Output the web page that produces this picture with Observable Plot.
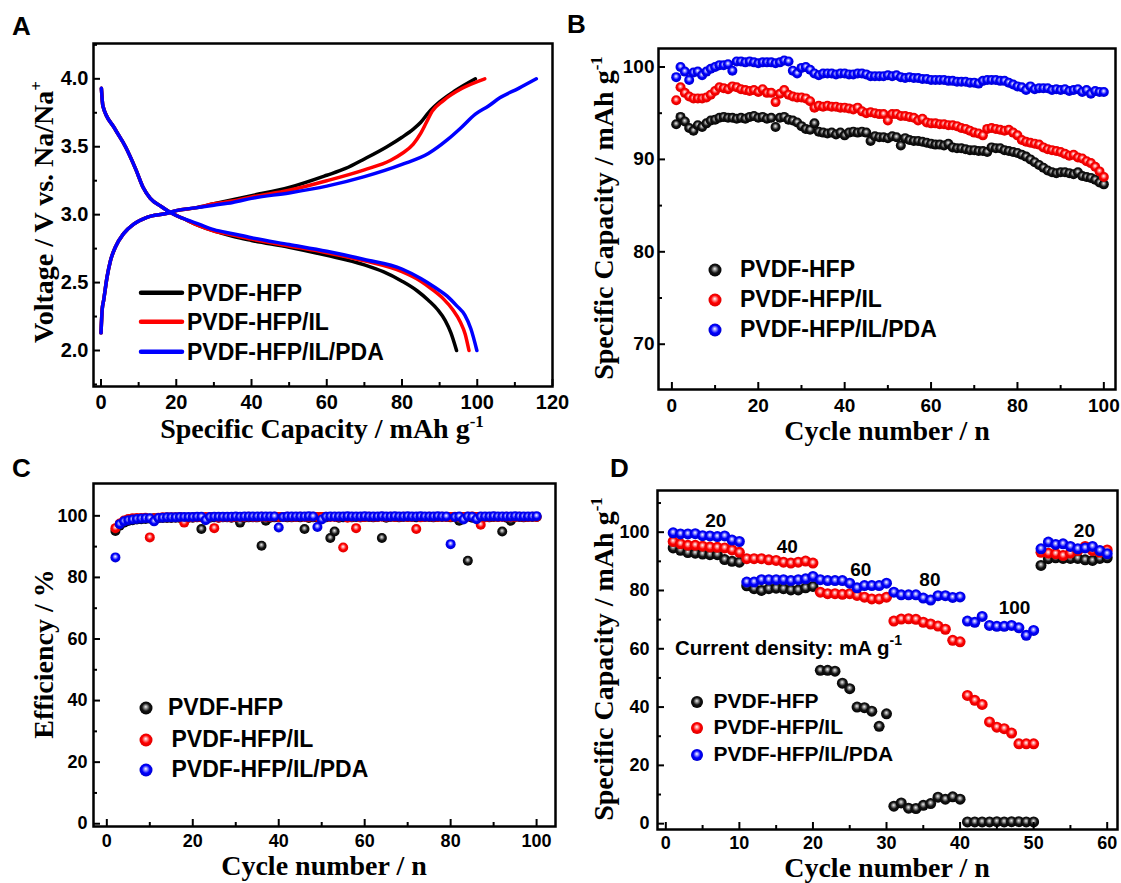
<!DOCTYPE html>
<html><head><meta charset="utf-8">
<script src="https://cdn.jsdelivr.net/npm/d3@7"></script>
<script src="https://cdn.jsdelivr.net/npm/@observablehq/plot@0.6"></script>
<style>
body{margin:0;background:#fff;}
#wrap{position:relative;width:1121px;height:883px;overflow:hidden;background:#fff;}
#overlay{position:absolute;left:0;top:0;pointer-events:none;}
</style></head><body>
<svg width="0" height="0" style="position:absolute">
<defs>
<radialGradient id="ballBlack" cx="50%" cy="48%" r="55%" fx="48%" fy="40%">
<stop offset="0" stop-color="#f0f0f0"/><stop offset="0.22" stop-color="#9a9a9a"/><stop offset="0.55" stop-color="#151515"/><stop offset="1" stop-color="#000"/>
</radialGradient>
<radialGradient id="ballRed" cx="50%" cy="48%" r="55%" fx="48%" fy="40%">
<stop offset="0" stop-color="#ffffff"/><stop offset="0.22" stop-color="#ff9a9a"/><stop offset="0.55" stop-color="#ff0000"/><stop offset="1" stop-color="#d80000"/>
</radialGradient>
<radialGradient id="ballBlue" cx="50%" cy="48%" r="55%" fx="48%" fy="40%">
<stop offset="0" stop-color="#ffffff"/><stop offset="0.22" stop-color="#9a9aff"/><stop offset="0.55" stop-color="#0000ff"/><stop offset="1" stop-color="#0000c8"/>
</radialGradient>
</defs></svg>
<div id="wrap"></div>
<script>
// ---------------- DATA ----------------
const seriesNames = ["PVDF-HFP", "PVDF-HFP/IL", "PVDF-HFP/IL/PDA"];

// Panel A: [capacity (mAh/g), voltage (V)]
const chargeHFP = [[0,2.13],[0.3,2.3],[0.7,2.37],[1.6,2.54],[2.5,2.66],[3.8,2.76],[6,2.86],[8.7,2.93],[12.2,2.98],[17.6,3.01],[20,3.03],[25,3.05],[30,3.08],[35,3.11],[40,3.14],[50,3.2],[60,3.29],[65,3.34],[70,3.41],[76,3.5],[80,3.57],[83,3.63],[85,3.68],[87,3.75],[90,3.83],[94,3.91],[99.5,4.0]];
const chargeIL = [[0,2.13],[0.3,2.3],[0.7,2.37],[1.6,2.54],[2.5,2.66],[3.8,2.76],[6,2.86],[8.7,2.93],[12.2,2.98],[17.6,3.01],[20,3.03],[25,3.05],[30,3.08],[35,3.1],[40,3.13],[50,3.18],[60,3.25],[70,3.33],[77,3.4],[80,3.45],[83,3.52],[85,3.6],[86.5,3.68],[88,3.76],[91,3.84],[96,3.93],[102,4.0]];
const chargePDA = [[0,2.13],[0.3,2.3],[0.7,2.37],[1.6,2.54],[2.5,2.66],[3.8,2.76],[6,2.86],[8.7,2.93],[12.2,2.98],[17.6,3.01],[20,3.03],[25,3.05],[30,3.07],[35,3.09],[40,3.12],[50,3.16],[60,3.21],[70,3.28],[80,3.37],[87,3.45],[92,3.55],[95.7,3.64],[99.5,3.74],[103,3.8],[106,3.86],[111,3.93],[115.7,4.0]];
const dischargeHFP = [[0.1,3.93],[0.5,3.8],[3.5,3.64],[6.5,3.5],[9.3,3.33],[11.2,3.2],[13.1,3.12],[16,3.06],[18.8,3.01],[22,2.97],[26,2.92],[30,2.88],[35,2.84],[40,2.81],[50,2.76],[60,2.7],[70,2.63],[75,2.58],[80,2.51],[84,2.44],[87,2.37],[89.5,2.3],[91.5,2.22],[93,2.13],[94.5,2.0]];
const dischargeIL = [[0.1,3.93],[0.5,3.8],[3.5,3.64],[6.5,3.5],[9.3,3.33],[11.2,3.2],[13.1,3.12],[16,3.06],[18.8,3.01],[22,2.97],[26,2.92],[30,2.88],[35,2.85],[40,2.82],[50,2.77],[60,2.72],[70,2.66],[80,2.58],[85,2.51],[88,2.45],[91,2.38],[93.5,2.3],[95.5,2.21],[96.8,2.12],[97.8,2.0]];
const dischargePDA = [[0.1,3.93],[0.5,3.8],[3.5,3.64],[6.5,3.5],[9.3,3.33],[11.2,3.2],[13.1,3.12],[16,3.06],[18.8,3.01],[22,2.97],[26,2.93],[30,2.89],[35,2.86],[40,2.83],[50,2.78],[60,2.73],[70,2.67],[80,2.6],[85,2.53],[89,2.46],[92,2.4],[94.5,2.33],[96.7,2.26],[98.3,2.16],[99.9,2.0]];

// Panel B: specific capacity vs cycle 1..100
const capHFP = [93.8,94.6,94.1,93.4,93.1,93.7,93.5,93.9,94.2,94.3,94.5,94.6,94.5,94.5,94.4,94.5,94.4,94.6,94.7,94.5,94.6,94.4,94.5,93.5,94.5,94.6,94.3,94.2,94.0,93.6,93.3,93.2,93.9,93.0,92.9,92.8,92.9,92.7,92.9,92.6,92.9,93.0,92.9,93.0,92.9,92.0,92.5,92.4,92.4,92.3,92.5,92.4,91.5,92.3,92.1,92.0,92.0,91.9,91.8,91.7,91.6,91.6,91.5,91.7,91.3,91.2,91.2,91.1,91.0,91.0,90.9,90.9,90.8,91.3,91.2,91.2,91.0,90.9,90.8,90.7,90.5,90.3,90.0,89.7,89.4,89.1,88.8,88.6,88.5,88.6,88.6,88.5,88.4,88.6,88.2,88.1,88.0,87.8,87.5,87.3];
const capIL = [96.4,97.8,97.2,96.8,96.6,96.6,96.6,96.7,97.0,97.4,97.8,97.7,97.6,97.9,97.8,97.6,97.5,97.4,97.5,97.3,97.6,97.2,97.2,96.2,97.1,97.5,97.0,96.8,96.7,96.7,96.6,96.3,95.6,95.8,95.7,95.8,95.7,95.7,95.6,95.6,95.5,95.4,95.6,95.2,95.0,95.1,95.0,94.9,94.9,94.2,94.9,94.9,94.7,94.7,94.6,94.5,94.2,94.4,94.0,93.9,93.9,93.8,93.8,93.7,93.7,93.6,93.4,93.3,93.1,92.9,92.8,92.6,93.3,93.4,93.3,93.2,93.1,93.2,92.9,92.6,92.1,91.9,91.8,91.7,91.6,91.3,91.1,91.0,90.9,90.8,90.6,90.4,90.5,90.2,90.1,89.8,89.6,89.2,88.7,88.1];
const capPDA = [98.9,100.0,99.5,98.6,99.4,99.5,99.1,99.5,99.8,100.0,100.2,100.2,100.3,99.6,100.6,100.6,100.5,100.6,100.5,100.4,100.5,100.5,100.5,100.4,100.5,100.7,100.6,99.6,99.3,99.9,100.0,99.7,99.3,99.1,99.3,99.3,99.3,99.2,99.3,99.3,99.2,99.2,99.3,99.3,99.2,99.0,99.0,99.0,99.0,99.1,99.0,99.1,98.9,98.8,98.9,98.8,98.8,98.7,98.7,98.6,98.6,98.6,98.6,98.5,98.5,98.4,98.4,98.4,98.3,98.3,98.2,98.5,98.6,98.6,98.6,98.5,98.5,98.3,98.1,97.9,97.8,97.5,97.9,97.6,97.7,97.7,97.7,97.5,97.6,97.5,97.6,97.4,97.5,97.6,97.3,97.5,97.1,97.4,97.3,97.3];

// Panel C: coulombic efficiency (%) vs cycle 2..100
const effHFP = [95.1,96.8,97.8,98.3,98.6,98.8,98.9,99.0,99.1,99.2,99.2,99.3,99.3,99.3,99.4,99.3,99.4,99.4,99.4,99.5,95.7,99.3,99.4,99.5,99.4,99.5,99.5,99.4,99.5,97.8,99.4,99.5,99.5,99.5,90.3,98.4,99.4,99.5,99.5,99.6,99.5,99.5,99.6,99.5,95.7,99.3,99.5,99.5,99.6,99.5,92.8,94.9,99.4,99.5,99.6,99.5,99.6,99.5,99.6,99.6,99.5,99.6,92.8,99.4,99.6,99.6,99.5,99.6,99.6,99.6,99.5,99.6,99.6,99.6,99.5,99.6,99.6,99.6,99.5,99.6,98.4,99.5,85.4,99.4,99.6,99.6,99.6,99.5,99.6,99.6,94.9,99.4,98.4,99.6,99.6,99.5,99.6,99.6,99.6];
const effIL = [96.0,97.5,98.5,99.0,99.2,99.3,99.3,99.4,93.0,99.2,99.4,99.5,99.5,99.5,99.5,99.6,97.8,99.4,99.5,99.6,99.5,99.6,99.6,96.0,99.4,99.6,99.6,99.5,99.6,99.6,99.6,99.7,99.6,99.6,99.7,99.6,99.6,99.7,99.6,99.6,99.7,99.6,99.6,99.7,99.6,99.6,99.7,99.6,99.6,99.7,99.6,99.6,99.6,89.7,99.4,99.6,96.0,99.5,99.6,99.7,99.6,99.6,99.7,99.6,99.7,99.6,99.6,99.7,99.6,99.6,95.7,99.5,99.6,99.7,99.6,99.6,99.7,99.6,99.6,99.7,99.6,99.6,99.7,99.8,99.6,97.1,99.5,99.6,99.7,99.6,99.6,99.7,99.6,99.6,99.7,99.6,99.6,99.7,99.6];
const effPDA = [86.5,97.3,98.2,98.6,98.8,99.0,99.1,99.2,99.2,98.2,99.3,99.4,99.5,99.5,99.5,99.6,99.6,99.6,99.6,99.7,99.7,98.6,99.6,99.7,99.7,99.7,99.7,99.7,99.8,99.7,99.8,99.8,99.8,99.8,99.8,99.8,99.8,99.8,96.2,99.6,99.8,99.8,99.8,99.8,99.8,99.9,99.8,96.4,98.8,99.7,99.8,99.8,99.8,99.8,99.9,99.8,99.8,99.8,99.9,99.8,99.8,99.8,99.9,99.8,99.8,99.9,99.8,99.8,99.9,99.8,99.8,99.9,99.8,99.8,99.8,99.9,99.8,99.8,90.8,99.6,99.8,98.8,99.8,99.7,98.9,99.8,99.8,99.8,99.9,99.8,99.8,99.8,99.8,99.9,99.8,99.8,99.8,99.8,99.9];

// Panel D: rate capability, cycles 1..60
const rateHFP = [94.6,93.8,93.0,92.8,92.5,92.3,92.3,90.6,90.0,89.7, 81.6,80.6,80.0,80.6,80.8,80.6,80.2,80.2,80.9,81.4, 52.6,52.6,52.3,48.2,46.3,40.0,39.8,38.6,33.4,37.7, 6.0,7.1,5.3,5.2,6.3,6.9,9.1,8.4,9.2,8.4, 0.6,0.6,0.6,0.6,0.7,0.6,0.7,0.7,0.6,0.6, 88.6,90.9,91.2,91.0,91.0,91.0,90.5,90.3,91.0,91.2];
const rateIL = [96.8,96.0,95.5,95.5,95.2,94.9,94.8,94.6,93.9,93.1, 90.9,90.9,90.9,90.5,90.3,89.7,89.4,89.7,90.1,89.4, 79.4,78.9,78.9,78.7,78.9,78.3,77.7,77.1,77.1,77.7, 69.5,70.2,70.3,70.1,69.1,68.5,67.8,66.7,62.9,62.4, 44.0,42.3,40.9,34.9,33.1,32.6,31.1,27.4,27.4,27.4, 93.1,92.8,92.6,92.0,92.8,93.7,95.1,93.7,93.1,93.9];
const ratePDA = [99.8,99.4,99.4,99.5,98.8,98.7,98.5,98.7,97.3,96.8, 82.9,82.9,83.7,83.7,83.7,83.7,83.4,83.7,84.0,84.8, 83.7,83.4,83.4,83.4,82.5,80.9,81.7,81.7,81.7,82.5, 79.4,78.5,78.5,78.5,77.4,76.7,78.2,78.2,77.6,77.8, 69.5,69.1,71.1,68.0,67.7,67.7,68.0,67.2,64.6,66.3, 94.3,96.6,95.8,96.0,95.1,94.3,94.6,95.1,93.7,92.6];
// current density labels (mA/g) placed at [cycle, capacity]
const rateLabels = ["20","40","60","80","100","20"];
const rateLabelCycle = [6.8,16.5,26.5,35.9,47.4,56.9];
const rateLabelCap = [101.7,92.7,85.1,81.7,72.1,98.2];

// tick values
const aXTicks = [0,20,40,60,80,100,120], aXMinor = [10,30,50,70,90,110];
const aYTicks = [2.0,2.5,3.0,3.5,4.0], aYMinor = [1.75,2.25,2.75,3.25,3.75,4.25];
const bXTicks = [0,20,40,60,80,100], bXMinor = [10,30,50,70,90];
const bYTicks = [70,80,90,100], bYMinor = [75,85,95];
const cXTicks = [0,20,40,60,80,100], cXMinor = [10,30,50,70,90];
const cYTicks = [0,20,40,60,80,100], cYMinor = [10,30,50,70,90];
const dXTicks = [0,10,20,30,40,50,60], dXMinor = [5,15,25,35,45,55];
const dYTicks = [0,20,40,60,80,100], dYMinor = [10,30,50,70,90,110];

// texts
const panelLetters = ["A","B","C","D"];
const xTitleA = ["Specific Capacity / mAh g", "-1"];
const yTitleA = ["Voltage / V vs. Na/Na", "+"];
const xTitleB = ["Cycle number / n", ""];
const yTitleB = ["Specific Capacity / mAh g", "-1"];
const yTitleC = ["Efficiency / %", ""];
const densityNote = ["Current density: mA g", "-1"];

// ---------------- RENDER ----------------
const colors = ["#000000", "#ff0000", "#0000ff"];
const balls = ["url(#ballBlack)", "url(#ballRed)", "url(#ballBlue)"];
const wrap = document.getElementById("wrap");
const SANS = "'Liberation Sans', Arial, Helvetica, sans-serif";
const SERIF = "'Liberation Serif', 'Times New Roman', serif";

function panel(o) {
  const innerW = o.width - o.ml - o.mr, innerH = o.height - o.mt - o.mb;
  const svg = Plot.plot({
    width: o.width, height: o.height,
    marginLeft: o.ml, marginRight: o.mr, marginTop: o.mt, marginBottom: o.mb,
    x: {domain: o.xDomain, label: null},
    y: {domain: o.yDomain, label: null},
    style: {background: "transparent", overflow: "visible", fontFamily: SANS},
    marks: [
      ...o.marks,
      Plot.ruleX(o.xMajor, {x: d => d, insetTop: innerH - 7, strokeWidth: 2}),
      Plot.ruleX(o.xMinor, {x: d => d, insetTop: innerH - 4, strokeWidth: 2}),
      Plot.ruleY(o.yMajor, {y: d => d, insetRight: innerW - 7, strokeWidth: 2}),
      Plot.ruleY(o.yMinor, {y: d => d, insetRight: innerW - 4, strokeWidth: 2}),
      Plot.axisX({ticks: o.xMajor, tickSize: 0, tickPadding: o.xPad, tickFormat: o.xFmt || (d => d), fontSize: o.fs, fontWeight: "bold", label: null}),
      Plot.axisY({ticks: o.yMajor, tickSize: 0, tickPadding: o.yPad, tickFormat: o.yFmt || (d => d), fontSize: o.fs, fontWeight: "bold", label: null}),
      Plot.frame({stroke: "black", strokeWidth: 2.5})
    ]
  });
  svg.style.position = "absolute";
  svg.style.left = o.left + "px";
  svg.style.top = o.top + "px";
  wrap.appendChild(svg);
}

const toRows = (arr) => arr.map(([x, y]) => ({x, y}));
const seriesRows = (vals, start) => vals.map((v, i) => ({cycle: i + start, v}));

// Panel A
const curvesA = [[chargeHFP, dischargeHFP], [chargeIL, dischargeIL], [chargePDA, dischargePDA]];
const marksA = [];
curvesA.forEach(([c, d], i) => {
  marksA.push(Plot.line(toRows(c), {x: "x", y: "y", stroke: colors[i], strokeWidth: 3.5, curve: "monotone-x"}));
  marksA.push(Plot.line(toRows(d), {x: "x", y: "y", stroke: colors[i], strokeWidth: 3.5, curve: "monotone-x"}));
});
panel({left: 0, top: 0, width: 560, height: 440, ml: 93, mr: 8, mt: 43, mb: 54,
  xDomain: [-2, 120], yDomain: [1.735, 4.26], xMajor: aXTicks, xMinor: aXMinor, yMajor: aYTicks, yMinor: aYMinor,
  yFmt: d3.format(".1f"), fs: 20, xPad: 8, yPad: 5, marks: marksA});

// Panel B
const marksB = [capHFP, capIL, capPDA].map((vals, i) =>
  Plot.dot(seriesRows(vals, 1), {x: "cycle", y: "v", r: 5, fill: balls[i]}));
panel({left: 560, top: 0, width: 561, height: 440, ml: 98, mr: 6, mt: 48, mb: 51,
  xDomain: [-3.1, 102.7], yDomain: [65.1, 102], xMajor: bXTicks, xMinor: bXMinor, yMajor: bYTicks, yMinor: bYMinor,
  fs: 19, xPad: 9, yPad: 4, marks: marksB});

// Panel C
const marksC = [effHFP, effIL, effPDA].map((vals, i) =>
  Plot.dot(seriesRows(vals, 2), {x: "cycle", y: "v", r: 5, fill: balls[i]}));
panel({left: 0, top: 440, width: 560, height: 443, ml: 93, mr: 5, mt: 43, mb: 57,
  xDomain: [-3.1, 104.4], yDomain: [-0.9, 110.5], xMajor: cXTicks, xMinor: cXMinor, yMajor: cYTicks, yMinor: cYMinor,
  fs: 18, xPad: 8, yPad: 6, marks: marksC});

// Panel D
const marksD = [rateHFP, rateIL, ratePDA].map((vals, i) =>
  Plot.dot(seriesRows(vals, 1), {x: "cycle", y: "v", r: 5.5, fill: balls[i]}));
marksD.push(Plot.text(rateLabels, {x: (d, i) => rateLabelCycle[i], y: (d, i) => rateLabelCap[i], text: d => d,
  fontSize: 19, fontWeight: "bold", lineAnchor: "bottom", fill: "black"}));
panel({left: 560, top: 440, width: 561, height: 443, ml: 97, mr: 4, mt: 50, mb: 54,
  xDomain: [-1.13, 61.4], yDomain: [-2, 114.3], xMajor: dXTicks, xMinor: dXMinor, yMajor: dYTicks, yMinor: dYMinor,
  fs: 18, xPad: 7, yPad: 8, marks: marksD});

// ---------------- OVERLAY: titles, letters, legends ----------------
const ov = d3.select(wrap).append("svg").attr("id", "overlay").attr("width", 1121).attr("height", 883);

function title(parts, x, y, rotate) {
  const g = ov.append("g").attr("transform", `translate(${x},${y})` + (rotate ? " rotate(-90)" : ""));
  const t = g.append("text").attr("text-anchor", "middle").attr("font-family", SERIF)
    .attr("font-weight", "bold").attr("font-size", 28).attr("fill", "#000");
  t.append("tspan").text(parts[0]);
  if (parts[1]) t.append("tspan").attr("font-size", 17).attr("dy", -11).text(parts[1]);
}
title(xTitleA, 322, 438, false);
title(yTitleA, 53, 212, true);
title(xTitleB, 887, 440, false);
title(yTitleB, 613, 218, true);
title(xTitleB, 324, 875, false);
title(yTitleC, 53, 654, true);
title(xTitleB, 887, 877, false);
title(yTitleB, 613, 659, true);

const letterPos = [[12, 35], [567, 33], [12, 477], [610, 477]];
panelLetters.forEach((L, i) => ov.append("text").attr("x", letterPos[i][0]).attr("y", letterPos[i][1])
  .attr("font-family", SANS).attr("font-weight", "bold").attr("font-size", 26).text(L));

// note in D
const note = ov.append("text").attr("x", 675).attr("y", 655).attr("font-family", SANS)
  .attr("font-weight", "bold").attr("font-size", 20.5);
note.append("tspan").text(densityNote[0]);
note.append("tspan").attr("font-size", 14).attr("dy", -10).text(densityNote[1]);

// legend A (lines)
const legA = [292.7, 321.7, 351.7];
seriesNames.forEach((n, i) => {
  ov.append("line").attr("x1", 141).attr("x2", 182).attr("y1", legA[i]).attr("y2", legA[i])
    .attr("stroke", colors[i]).attr("stroke-width", 4.5).attr("stroke-linecap", "round");
  ov.append("text").attr("x", 187).attr("y", legA[i]).attr("dy", "0.35em").attr("font-family", SANS)
    .attr("font-weight", "bold").attr("font-size", 23).text(n);
});
// legends with balls
function ballLegend(cx, ys, tx, fs, r) {
  seriesNames.forEach((n, i) => {
    ov.append("circle").attr("cx", cx).attr("cy", ys[i]).attr("r", r).attr("fill", balls[i]);
    ov.append("text").attr("x", tx[i]).attr("y", ys[i] - 1).attr("dy", "0.35em").attr("font-family", SANS)
      .attr("font-weight", "bold").attr("font-size", fs).text(n);
  });
}
ballLegend(715, [270, 300, 330], [740, 740, 740], 23, 6.5);
ballLegend(146, [708, 740, 770], [168, 171.5, 171.5], 23, 6.5);
ballLegend(697, [702, 728, 755], [713.5, 713.5, 713.5], 21, 6);
</script>
</body></html>
